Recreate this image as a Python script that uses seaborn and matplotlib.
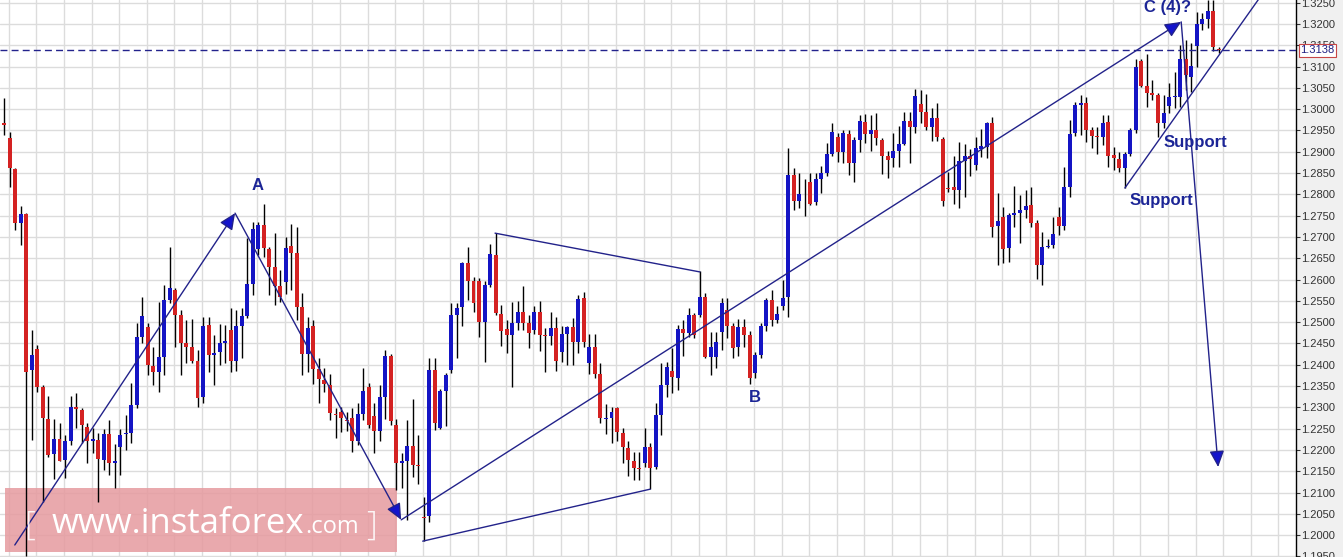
import numpy as np
import matplotlib
matplotlib.use("Agg")
import matplotlib.pyplot as plt
import seaborn as sns

# ---------------- data ----------------
opens = [1.2967,1.2932,1.2860,1.2732,1.2754,1.2388,1.2437,1.2349,1.2272,1.2190,
         1.2225,1.2177,1.2220,1.2302,1.2294,1.2255,1.2220,1.2223,1.2177,1.2238,
         1.2170,1.2208,1.2237,1.2239,1.2306,1.2466,1.2488,1.2397,1.2384,1.2419,
         1.2552,1.2576,1.2517,1.2452,1.2441,1.2410,1.2325,1.2493,1.2423,1.2429,
         1.2452,1.2482,1.2410,1.2491,1.2515,1.2590,1.2671,1.2728,1.2671,1.2629,
         1.2585,1.2595,1.2679,1.2663,1.2536,1.2425,1.2490,1.2390,1.2364,1.2353,
         1.2285,1.2290,1.2270,1.2274,1.2220,1.2285,1.2347,1.2280,1.2245,1.2325,
         1.2421,1.2259,1.2170,1.2175,1.2209,1.2165,1.2042,1.2045,1.2388,1.2251,
         1.2339,1.2388,1.2517,1.2535,1.2638,1.2597,1.2597,1.2501,1.2587,1.2658,
         1.2519,1.2483,1.2470,1.2499,1.2525,1.2497,1.2482,1.2525,1.2471,1.2468,
         1.2486,1.2431,1.2472,1.2488,1.2454,1.2556,1.2404,1.2441,1.2378,1.2273,
         1.2274,1.2298,1.2241,1.2204,1.2175,1.2157,1.2170,1.2206,1.2160,1.2282,
         1.2353,1.2386,1.2368,1.2483,1.2474,1.2517,1.2517,1.2560,1.2419,1.2419,
         1.2478,1.2529,1.2491,1.2442,1.2488,1.2470,1.2380,1.2423,1.2491,1.2552,
         1.2504,1.2538,1.2560,1.2846,1.2785,1.2803,1.2828,1.2781,1.2835,1.2850,
         1.2895,1.2935,1.2900,1.2942,1.2874,1.2928,1.2971,1.2942,1.2950,1.2928,
         1.2890,1.2885,1.2903,1.2918,1.2973,1.2958,1.3012,1.2994,1.2959,1.2979,
         1.2929,1.2815,1.2817,1.2810,1.2879,1.2890,1.2869,1.2906,1.2911,1.2967,
         1.2726,1.2746,1.2673,1.2752,1.2757,1.2763,1.2775,1.2734,1.2634,1.2677,
         1.2681,1.2748,1.2726,1.2817,1.2943,1.3010,1.3015,1.2950,1.2937,1.2934,
         1.2971,1.2893,1.2882,1.2861,1.2895,1.2950,1.3114,1.3055,1.3037,1.3033,
         1.2968,1.3008,1.3028,1.3029,1.3117,1.3076,1.3148,1.3200,1.3211,1.3231,
         1.3142]
highs = [1.3026,1.2947,1.2862,1.2773,1.2756,1.2482,1.2447,1.2353,1.2327,1.2272,
         1.2263,1.2235,1.2327,1.2334,1.2299,1.2263,1.2252,1.2240,1.2249,1.2270,
         1.2214,1.2249,1.2282,1.2357,1.2497,1.2560,1.2498,1.2442,1.2548,1.2587,
         1.2677,1.2580,1.2529,1.2505,1.2507,1.2435,1.2513,1.2513,1.2470,1.2496,
         1.2493,1.2533,1.2529,1.2533,1.2697,1.2736,1.2736,1.2778,1.2676,1.2709,
         1.2623,1.2701,1.2731,1.2723,1.2568,1.2512,1.2504,1.2415,1.2392,1.2378,
         1.2298,1.2302,1.2290,1.2298,1.2310,1.2392,1.2358,1.2310,1.2353,1.2435,
         1.2425,1.2272,1.2192,1.2270,1.2319,1.2235,1.2089,1.2415,1.2415,1.2342,
         1.2380,1.2546,1.2546,1.2642,1.2677,1.2605,1.2603,1.2597,1.2684,1.2709,
         1.2540,1.2505,1.2548,1.2550,1.2585,1.2517,1.2538,1.2550,1.2486,1.2525,
         1.2512,1.2490,1.2491,1.2509,1.2564,1.2572,1.2472,1.2472,1.2405,1.2308,
         1.2300,1.2300,1.2251,1.2222,1.2196,1.2196,1.2251,1.2216,1.2310,1.2405,
         1.2407,1.2439,1.2493,1.2505,1.2533,1.2521,1.2619,1.2568,1.2478,1.2478,
         1.2556,1.2556,1.2497,1.2507,1.2507,1.2480,1.2431,1.2497,1.2556,1.2576,
         1.2538,1.2599,1.2908,1.2861,1.2850,1.2835,1.2850,1.2850,1.2867,1.2920,
         1.2968,1.2945,1.2951,1.2951,1.2935,1.2986,1.2989,1.2986,1.2992,1.2932,
         1.2903,1.2945,1.2961,1.2994,1.2994,1.3047,1.3045,1.3036,1.3002,1.3015,
         1.2935,1.2853,1.2890,1.2924,1.2918,1.2906,1.2934,1.2953,1.2971,1.2981,
         1.2803,1.2771,1.2756,1.2820,1.2799,1.2810,1.2818,1.2740,1.2712,1.2695,
         1.2748,1.2770,1.2864,1.2975,1.3018,1.3033,1.3029,1.2958,1.2959,1.2986,
         1.2986,1.2912,1.2900,1.2900,1.2955,1.3117,1.3117,1.3130,1.3069,1.3037,
         1.3033,1.3062,1.3088,1.3151,1.3162,1.3155,1.3227,1.3225,1.3256,1.3256,
         1.3147]
lows = [1.2939,1.2818,1.2716,1.2681,1.1950,1.2223,1.2337,1.2079,1.2184,1.2131,
        1.2173,1.2134,1.2212,1.2252,1.2216,1.2169,1.2193,1.2079,1.2153,1.2141,
        1.2110,1.2141,1.2200,1.2216,1.2298,1.2450,1.2376,1.2353,1.2337,1.2376,
        1.2544,1.2442,1.2376,1.2404,1.2404,1.2300,1.2310,1.2382,1.2353,1.2400,
        1.2404,1.2384,1.2386,1.2415,1.2509,1.2564,1.2658,1.2654,1.2564,1.2540,
        1.2548,1.2566,1.2576,1.2504,1.2376,1.2382,1.2355,1.2311,1.2337,1.2270,
        1.2227,1.2243,1.2245,1.2196,1.2212,1.2270,1.2251,1.2194,1.2222,1.2272,
        1.2259,1.2106,1.2110,1.2036,1.2136,1.2120,1.1987,1.2030,1.2247,1.2249,
        1.2256,1.2380,1.2415,1.2490,1.2551,1.2525,1.2465,1.2407,1.2582,1.2517,
        1.2444,1.2428,1.2347,1.2482,1.2482,1.2439,1.2472,1.2433,1.2382,1.2447,
        1.2386,1.2407,1.2400,1.2400,1.2427,1.2441,1.2378,1.2368,1.2264,1.2238,
        1.2216,1.2222,1.2169,1.2139,1.2130,1.2130,1.2160,1.2108,1.2155,1.2235,
        1.2325,1.2333,1.2341,1.2421,1.2465,1.2462,1.2512,1.2415,1.2376,1.2392,
        1.2435,1.2462,1.2415,1.2421,1.2442,1.2355,1.2368,1.2415,1.2480,1.2491,
        1.2497,1.2529,1.2513,1.2763,1.2767,1.2749,1.2775,1.2775,1.2804,1.2842,
        1.2890,1.2877,1.2873,1.2846,1.2830,1.2900,1.2920,1.2903,1.2916,1.2848,
        1.2838,1.2864,1.2864,1.2916,1.2873,1.2943,1.2967,1.2951,1.2926,1.2926,
        1.2773,1.2806,1.2777,1.2767,1.2793,1.2843,1.2857,1.2887,1.2885,1.2701,
        1.2634,1.2638,1.2642,1.2723,1.2685,1.2744,1.2723,1.2601,1.2587,1.2674,
        1.2673,1.2705,1.2716,1.2795,1.2937,1.2939,1.2924,1.2908,1.2895,1.2916,
        1.2864,1.2857,1.2853,1.2814,1.2889,1.2945,1.3053,1.3004,1.3022,1.2935,
        1.2955,1.2992,1.3002,1.3006,1.3045,1.3041,1.3100,1.3186,1.3190,1.3137,
        1.3133]
closes = [1.2963,1.2861,1.2732,1.2754,1.2384,1.2423,1.2347,1.2274,1.2188,1.2225,
          1.2175,1.2220,1.2302,1.2296,1.2259,1.2220,1.2225,1.2178,1.2238,1.2169,
          1.2175,1.2235,1.2239,1.2306,1.2466,1.2515,1.2400,1.2384,1.2419,1.2552,
          1.2580,1.2517,1.2452,1.2441,1.2410,1.2322,1.2491,1.2423,1.2427,1.2452,
          1.2457,1.2410,1.2491,1.2515,1.2590,1.2718,1.2728,1.2673,1.2629,1.2585,
          1.2560,1.2673,1.2663,1.2536,1.2425,1.2486,1.2390,1.2366,1.2355,1.2286,
          1.2282,1.2274,1.2268,1.2220,1.2285,1.2339,1.2259,1.2245,1.2325,1.2421,
          1.2267,1.2170,1.2175,1.2209,1.2165,1.2162,1.2040,1.2388,1.2263,1.2339,
          1.2375,1.2517,1.2533,1.2638,1.2597,1.2546,1.2501,1.2587,1.2660,1.2521,
          1.2480,1.2470,1.2497,1.2525,1.2497,1.2474,1.2525,1.2470,1.2468,1.2486,
          1.2410,1.2472,1.2488,1.2454,1.2554,1.2454,1.2441,1.2378,1.2274,1.2274,
          1.2290,1.2243,1.2206,1.2177,1.2157,1.2155,1.2206,1.2157,1.2282,1.2353,
          1.2394,1.2371,1.2483,1.2474,1.2517,1.2470,1.2560,1.2419,1.2442,1.2454,
          1.2546,1.2491,1.2439,1.2488,1.2470,1.2368,1.2423,1.2491,1.2552,1.2505,
          1.2519,1.2556,1.2846,1.2785,1.2801,1.2804,1.2778,1.2835,1.2850,1.2895,
          1.2947,1.2900,1.2943,1.2874,1.2928,1.2973,1.2942,1.2950,1.2932,1.2890,
          1.2881,1.2903,1.2918,1.2973,1.2958,1.3031,1.2994,1.2958,1.2979,1.2934,
          1.2785,1.2813,1.2810,1.2879,1.2889,1.2882,1.2908,1.2914,1.2967,1.2724,
          1.2738,1.2671,1.2752,1.2756,1.2763,1.2773,1.2734,1.2634,1.2677,1.2680,
          1.2707,1.2726,1.2817,1.2942,1.3010,1.3015,1.2950,1.2937,1.2934,1.2968,
          1.2889,1.2885,1.2861,1.2895,1.2950,1.3100,1.3055,1.3039,1.3033,1.2968,
          1.2992,1.3028,1.3031,1.3117,1.3080,1.3101,1.3200,1.3211,1.3231,1.3147,
          1.3138]

current_price = 1.3138
y_ticks = [round(1.1950 + 0.005 * k, 4) for k in range(27)]

# wave-count drawing points: (bar index, price)
wave_up_A = [(1.9, 1.1977), (41.8, 1.2756)]
wave_A_down = [(41.8, 1.2756), (71.9, 1.2036)]
wave_to_C = [(71.9, 1.2036), (213.2, 1.3205)]
wave_C_drop = [(213.2, 1.3205), (219.9, 1.2160)]
upper_side = [(88.9, 1.2709), (126.0, 1.2618)]
lower_side = [(75.8, 1.1986), (117.0, 1.2108)]
support_line = [(203.0, 1.2815), (229.3, 1.3296)]
wave_labels = [("A", 45.8, 1.2822), ("B", 136.0, 1.2324), ("C (4)?", 210.8, 1.3238),
               ("Support", 215.7, 1.2921), ("Support", 209.7, 1.2785)]

# ---------------- styling ----------------
sns.set_theme(style="white")
plt.rcParams["font.family"] = ["Liberation Sans", "DejaVu Sans"]

W, H = 1343, 557
fig = plt.figure(figsize=(W / 100, H / 100), dpi=100, facecolor="#f0f0f0")
ax = fig.add_axes([0, 0, 1296 / W, 1])
ax.set_facecolor("white")

n = len(opens)
x = np.arange(n)
o = np.array(opens); c = np.array(closes); hi = np.array(highs); lo = np.array(lows)
bull = c >= o
colors = np.where(bull, "#1414c4", "#d42222")
bottoms = np.minimum(o, c)
heights = np.maximum(np.abs(c - o), 0.00007)

# grid
ax.set_xlim(-0.78, 234.0)
ax.set_ylim(1.19488, 1.32563)
ax.set_xticks(np.arange(0.8, 234, 5))
ax.set_yticks(y_ticks)
ax.grid(True, color="#dcdcdc", lw=1.0, zorder=0)
ax.set_axisbelow(True)

# watermark band
ax.add_patch(plt.Rectangle((5 / 1296, 5 / H), 392 / 1296, 64 / H, transform=ax.transAxes,
                           facecolor="#e69a9f", alpha=0.85, edgecolor="none", zorder=1))

# candles (wicks then bodies)
ax.vlines(x, lo, hi, color="black", lw=1.0, zorder=2)
ax.bar(x, heights, bottom=bottoms, width=0.72, color=colors, linewidth=0, zorder=3)

line_c = "#22228a"
head_c = "#1414cc"

def seg(pts, head=False):
    (x0, y0), (x1, y1) = pts
    if head:
        ax.annotate("", xy=(x1, y1), xytext=(x0, y0),
                    arrowprops=dict(arrowstyle="-|>,head_length=0.55,head_width=0.25",
                                    fc=head_c, ec=line_c, lw=1.0,
                                    shrinkA=0, shrinkB=0, mutation_scale=18),
                    zorder=5)
    else:
        ax.plot([x0, x1], [y0, y1], color=line_c, lw=1.0, zorder=5)

seg(wave_up_A, True)
seg(wave_A_down, True)
seg(wave_to_C, True)
seg(wave_C_drop, True)
seg(upper_side)
seg(lower_side)
seg(support_line)

# current price dashed line
ax.axhline(current_price, color="#23238c", lw=1.0, ls=(0, (5, 3)), zorder=5)

for txt, xi, yi in wave_labels:
    ax.text(xi, yi, txt, color="#1c2596", fontsize=12, fontweight="bold",
            ha="center", va="center", zorder=6)

# axis styling
for s in ["top", "left", "bottom"]:
    ax.spines[s].set_visible(False)
ax.spines["right"].set_color("black")
ax.spines["right"].set_linewidth(1.0)
ax.yaxis.tick_right()
ax.yaxis.set_major_formatter(matplotlib.ticker.FormatStrFormatter("%.4f"))
ax.tick_params(axis="y", direction="out", length=3, width=0.8, color="#333333",
               labelsize=8, labelcolor="#333333", pad=1, right=True, left=False)
ax.tick_params(axis="x", length=0, labelbottom=False)

ax.text(1.0035, current_price, "1.3138", transform=ax.get_yaxis_transform(),
        ha="left", va="center", fontsize=8, color="#1c1c80", zorder=10, clip_on=False,
        bbox=dict(boxstyle="square,pad=0.12", fc="white", ec="#c84646", lw=0.8))

# watermark text
fig.text(24 / W, 22 / H, "[", color="white", fontsize=24, family=["Open Sans", "DejaVu Sans"],
         fontweight="light", alpha=0.9, ha="left", va="baseline")
fig.text(52 / W, 24 / H, "www.instaforex", color="white", fontsize=25,
         family=["Open Sans", "DejaVu Sans"], ha="left", va="baseline")
fig.text(305 / W, 24 / H, ".com", color="white", fontsize=17,
         family=["Open Sans", "DejaVu Sans"], ha="left", va="baseline")
fig.text(366 / W, 22 / H, "]", color="white", fontsize=24, family=["Open Sans", "DejaVu Sans"],
         fontweight="light", alpha=0.9, ha="left", va="baseline")

fig.savefig("out.png", dpi=100, facecolor=fig.get_facecolor())
